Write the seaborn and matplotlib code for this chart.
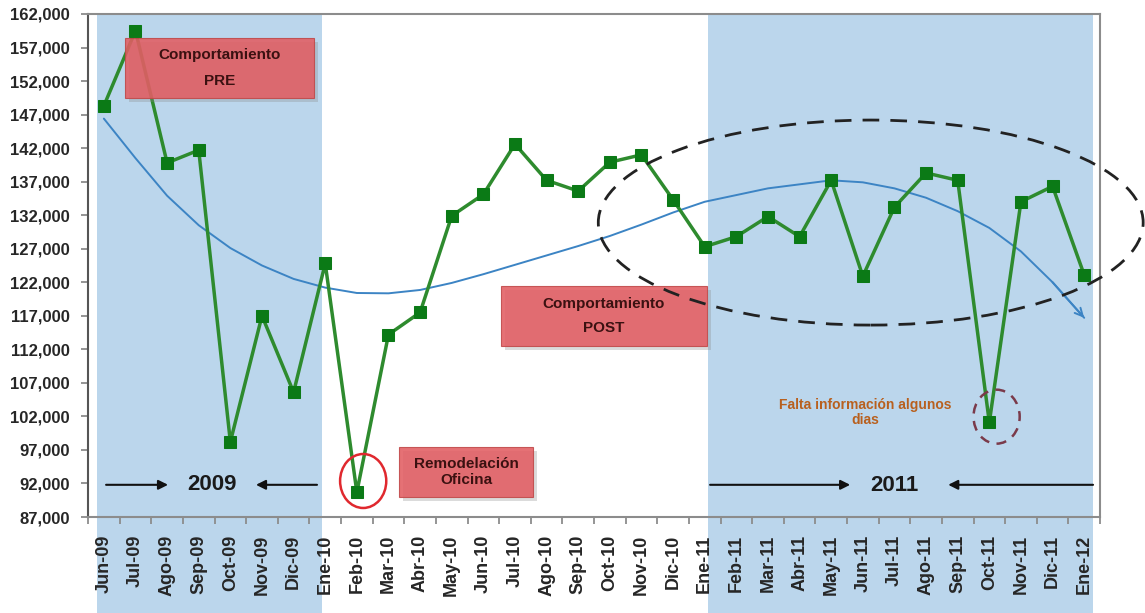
"""
Recreates the monthly behaviour chart (Jun-09 to Ene-12) with the
PRE / POST shaded periods, trend curve and annotations.
"""

import matplotlib
matplotlib.use("Agg")
import matplotlib.pyplot as plt
import matplotlib.transforms as mtransforms
import matplotlib.patheffects as pe
from matplotlib.patches import Rectangle, Ellipse
from matplotlib.ticker import FuncFormatter
import numpy as np
import pandas as pd
import seaborn as sns

MONTHS = ["Jun-09", "Jul-09", "Ago-09", "Sep-09", "Oct-09", "Nov-09", "Dic-09",
          "Ene-10", "Feb-10", "Mar-10", "Abr-10", "May-10", "Jun-10", "Jul-10",
          "Ago-10", "Sep-10", "Oct-10", "Nov-10", "Dic-10",
          "Ene-11", "Feb-11", "Mar-11", "Abr-11", "May-11", "Jun-11", "Jul-11",
          "Ago-11", "Sep-11", "Oct-11", "Nov-11", "Dic-11", "Ene-12"]
VALUES = [148300, 159500, 139800, 141700, 98200, 117000, 105600,
          124800, 90700, 114200, 117500, 131900, 135100, 142600,
          137200, 135600, 139900, 141000, 134300,
          127300, 128800, 131800, 128800, 137200, 122900, 133200,
          138300, 137200, 101100, 134000, 136300, 123100]
# polynomial trend curve at each month
TREND = [146400, 140500, 134900, 130500, 127100, 124500, 122500,
         121200, 120400, 120350, 120850, 121900, 123200, 124600,
         126000, 127400, 128900, 130600, 132400,
         134000, 135000, 136000, 136600, 137200, 136900, 136000,
         134600, 132600, 130100, 126600, 122000, 116700]
Y_TICKS = list(range(87000, 162001, 5000))

GREEN, DARK_GREEN = "#2E8B2E", "#0B7A16"
TREND_BLUE = "#3C84C4"
SHADE = "#BBD6EC"
BOX_RED = "#E25D62"
BOX_TEXT = "#3B1111"
GRAY = "#8C8C8C"

sns.set_style("white")
plt.rcParams["font.family"] = ["Liberation Sans", "DejaVu Sans"]

df = pd.DataFrame({"mes": MONTHS, "pos": np.arange(len(MONTHS)),
                   "valor": VALUES, "tendencia": TREND})

fig = plt.figure(figsize=(11.45, 6.13), dpi=100)
ax = fig.add_axes([0.0769, 0.1566, 0.8838, 0.8206])

# shaded periods (reach down over the tick labels)
shade_tf = mtransforms.blended_transform_factory(ax.transData, fig.transFigure)
for x0, x1 in [(-0.22, 6.9), (19.1, 31.28)]:
    ax.add_patch(Rectangle((x0, 0), x1 - x0, 0.9772, transform=shade_tf,
                           facecolor=SHADE, edgecolor="none", zorder=0,
                           clip_on=False))

sns.lineplot(data=df, x="pos", y="tendencia", color=TREND_BLUE, lw=1.4,
             ax=ax, zorder=3)
ax.annotate("", xy=(df["pos"].iloc[-1], TREND[-1]),
            xytext=(df["pos"].iloc[-2], TREND[-2]),
            arrowprops=dict(arrowstyle="->", color=TREND_BLUE, lw=1.4,
                            mutation_scale=14, shrinkA=0, shrinkB=0),
            zorder=3)

sns.lineplot(data=df, x="pos", y="valor", color=GREEN, lw=2.5, marker="s",
             markersize=8.5, markerfacecolor=DARK_GREEN,
             markeredgecolor=DARK_GREEN, ax=ax, zorder=4)

ax.set_xlim(-0.5, len(MONTHS) - 0.5)
ax.set_ylim(87000, 162000)
ax.set_xlabel("")
ax.set_ylabel("")

ax.set_xticks(df["pos"])
ax.set_xticklabels(MONTHS, rotation=90, fontsize=13, fontweight="bold")
ax.set_xticks(np.arange(-0.5, len(MONTHS), 1), minor=True)
ax.tick_params(axis="x", which="major", length=0, pad=13)
ax.tick_params(axis="x", which="minor", length=5, width=1.3, color=GRAY,
               direction="out", bottom=True)
ax.set_yticks(Y_TICKS)
ax.yaxis.set_major_formatter(FuncFormatter(lambda v, _: f"{int(v):,}"))
ax.tick_params(axis="y", length=5, width=1.3, color=GRAY, direction="out",
               left=True, pad=8, labelsize=12)
for lab in ax.get_yticklabels():
    lab.set_fontweight("bold")
for side, sp in ax.spines.items():
    sp.set_color(GRAY)
    sp.set_linewidth(1.5)
    sp.set_visible(True)
ax.spines["left"].set_color("#555555")

# annotation boxes
shadow = [pe.withSimplePatchShadow(offset=(3, -3), shadow_rgbFace="#888888",
                                   alpha=0.3)]
boxes = [
    ((0.67, 149480), 5.98, 8940, "Comportamiento\nPRE", 2.05),
    ((12.56, 112500), 6.51, 8945, "Comportamiento\nPOST", 1.95),
    ((9.33, 89980), 4.24, 7460, "Remodelación\nOficina", 1.1),
]
for (bx, by), bw, bh, label, spacing in boxes:
    rect = Rectangle((bx, by), bw, bh, facecolor=BOX_RED, edgecolor="#C04848",
                     lw=0.8, alpha=0.88, zorder=5)
    rect.set_path_effects(shadow)
    ax.add_patch(rect)
    ax.text(bx + bw / 2, by + bh / 2, label, ha="center", va="center",
            fontsize=11, fontweight="bold", color=BOX_TEXT,
            linespacing=spacing, zorder=6)

# highlight circles
ax.add_patch(Ellipse((8.2, 92370), 1.46, 8050, fill=False, edgecolor="#E0282E",
                     lw=1.8, zorder=6))
ax.add_patch(Ellipse((28.23, 101960), 1.46, 8050, fill=False,
                     edgecolor="#7A3A4A", lw=1.8, ls=(0, (4, 3)), zorder=6))
ax.add_patch(Ellipse((24.25, 130900), 17.23, 30570, fill=False,
                     edgecolor="#222222", lw=2, ls=(0, (6, 4)), zorder=6,
                     clip_on=False))

ax.text(24.07, 102580, "Falta información algunos\ndias", ha="center",
        va="center", fontsize=10, fontweight="bold", color="#B8601E",
        linespacing=1.1, zorder=6)

# year markers with arrows
arrow = dict(arrowstyle="-|>", color="#111111", lw=1.5, mutation_scale=14,
             shrinkA=0, shrinkB=0)
for x0, x1 in [(0.07, 2.03), (6.74, 4.81), (19.17, 23.6), (31.28, 26.7)]:
    ax.annotate("", xy=(x1, 91800), xytext=(x0, 91800), arrowprops=arrow,
                zorder=6)
ax.text(3.42, 91800, "2009", ha="center", va="center", fontsize=16,
        fontweight="bold", color="#1A1A1A", zorder=6)
ax.text(25.0, 91700, "2011", ha="center", va="center", fontsize=16,
        fontweight="bold", color="#1A1A1A", zorder=6)

fig.savefig("out.png", dpi=100)
plt.close(fig)
